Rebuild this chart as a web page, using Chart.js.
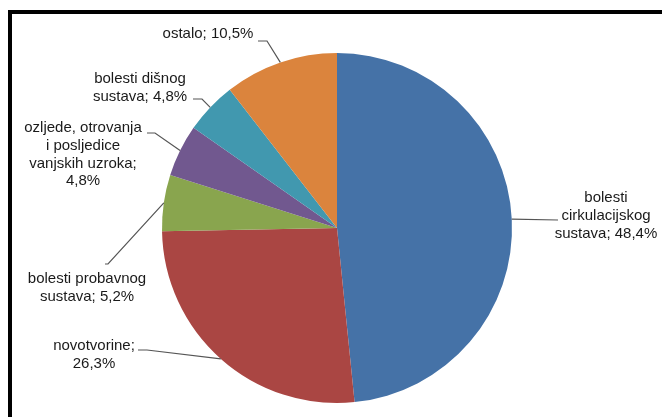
<!DOCTYPE html>
<html>
<head>
<meta charset="utf-8">
<script src="https://cdn.jsdelivr.net/npm/chart.js@4"></script>
<style>
  body { margin: 0; background: #fff; }
  #wrap { position: relative; width: 662px; height: 417px; overflow: hidden; }
  #frame { position: absolute; left: 8px; top: 10px; right: -10px; bottom: -10px;
           border-top: 4px solid #000; border-left: 4px solid #000; }
  canvas { position: absolute; left: 0; top: 0; }
</style>
</head>
<body>
<div id="wrap">
  <div id="frame"></div>
  <canvas id="pita" width="662" height="417"></canvas>
</div>
<script>
// udjeli uzroka smrti, u postocima
const kategorije = [
  'bolesti cirkulacijskog sustava',
  'novotvorine',
  'bolesti probavnog sustava',
  'ozljede, otrovanja i posljedice vanjskih uzroka',
  'bolesti dišnog sustava',
  'ostalo'
];
const udjeli = [48.4, 26.3, 5.2, 4.8, 4.8, 10.5];
const boje = ['#4572A7', '#AA4643', '#89A54E', '#71588F', '#4198AF', '#DB843D'];

// prijelomi redaka oznaka, {v} = vrijednost
const redoviOznaka = [
  ['bolesti', 'cirkulacijskog', 'sustava; {v}'],
  ['novotvorine;', '{v}'],
  ['bolesti probavnog', 'sustava; {v}'],
  ['ozljede, otrovanja', 'i posljedice', 'vanjskih uzroka;', '{v}'],
  ['bolesti dišnog', 'sustava; {v}'],
  ['ostalo; {v}']
];

// smjestaj oznaka u odnosu na sredinu pite (px): tekst, lakat i kraj linije
const rasporedOznaka = [
  { tx: 269, ty: -30, lakat: [221, -8], kraj: [221, -8] },
  { tx: -243, ty: 118, lakat: [-190, 122], kraj: [-199, 122] },
  { tx: -250, ty: 51, lakat: [-229, 36], kraj: [-232, 36] },
  { tx: -254, ty: -100, lakat: [-182, -95], kraj: [-190, -95] },
  { tx: -197, ty: -149, lakat: [-135, -129], kraj: [-144, -129] },
  { tx: -129, ty: -194, lakat: [-70, -187], kraj: [-79, -187] }
];

function postotak(v) {
  return v.toFixed(1).replace('.', ',') + '%';
}

const oznakePlugin = {
  id: 'oznake',
  afterDraw(chart) {
    const ctx = chart.ctx;
    const lukovi = chart.getDatasetMeta(0).data;
    ctx.save();
    ctx.font = '15px "Liberation Sans", Arial, sans-serif';
    ctx.textAlign = 'center';
    ctx.textBaseline = 'middle';
    lukovi.forEach((luk, i) => {
      const p = luk.getProps(['x', 'y', 'startAngle', 'endAngle', 'outerRadius'], true);
      const kut = (p.startAngle + p.endAngle) / 2;
      const rx = p.x + Math.cos(kut) * p.outerRadius;
      const ry = p.y + Math.sin(kut) * p.outerRadius;
      const r = rasporedOznaka[i];

      ctx.strokeStyle = '#555';
      ctx.lineWidth = 1.2;
      ctx.beginPath();
      ctx.moveTo(rx, ry);
      ctx.lineTo(p.x + r.lakat[0], p.y + r.lakat[1]);
      ctx.lineTo(p.x + r.kraj[0], p.y + r.kraj[1]);
      ctx.stroke();

      ctx.fillStyle = '#1a1a1a';
      redoviOznaka[i].forEach((red, j) => {
        const tekst = red.replace('{v}', postotak(udjeli[i]));
        ctx.fillText(tekst, p.x + r.tx, p.y + r.ty + j * 17.7);
      });
    });
    ctx.restore();
  }
};

new Chart(document.getElementById('pita'), {
  type: 'pie',
  data: {
    labels: kategorije,
    datasets: [{
      data: udjeli,
      backgroundColor: boje,
      borderWidth: 0,
      hoverOffset: 0
    }]
  },
  options: {
    responsive: false,
    animation: false,
    rotation: 0,
    layout: { padding: { left: 162, right: 150, top: 53, bottom: 14 } },
    plugins: {
      legend: { display: false },
      tooltip: { enabled: false }
    }
  },
  plugins: [oznakePlugin]
});
</script>
</body>
</html>
